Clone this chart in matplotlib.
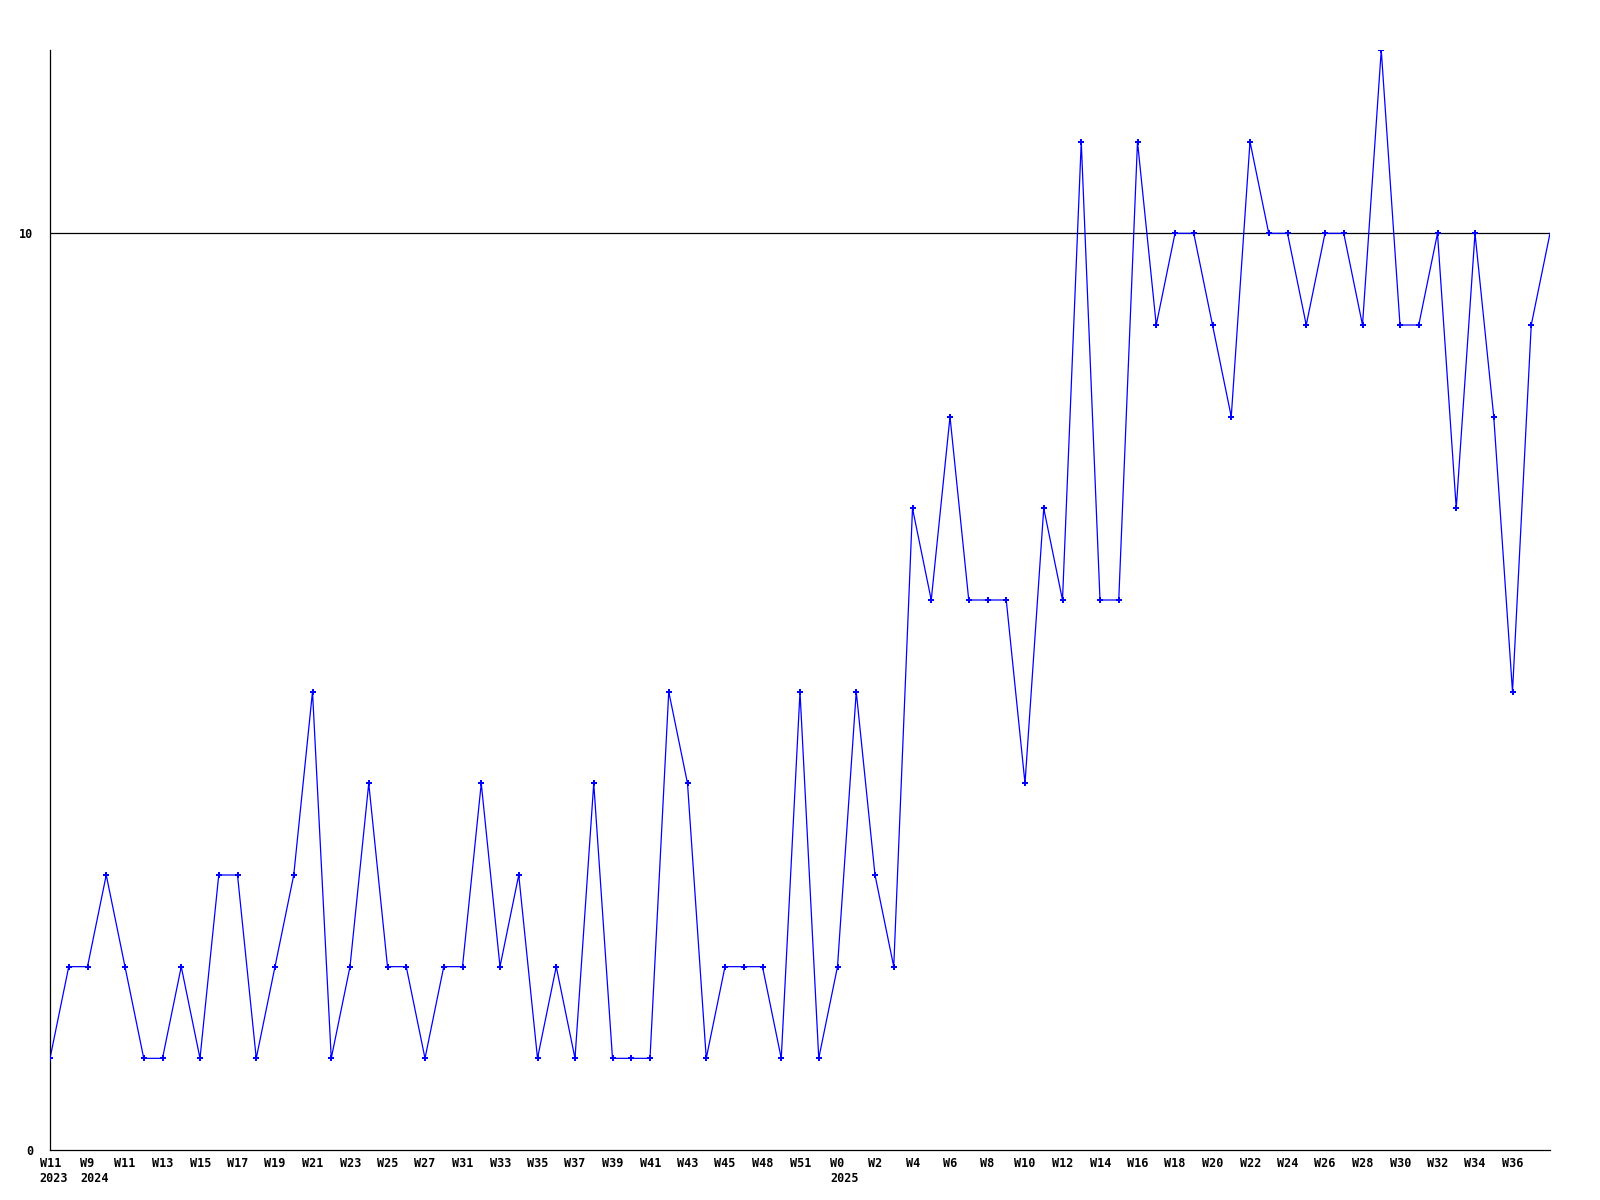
#!/usr/bin/env python
"""
Weekly counts line chart (2023 W11 .. 2025 W37).
"""
import matplotlib
matplotlib.use('Agg')
import matplotlib.pyplot as plt

# values per week, one point each
values = [1, 2, 2, 3, 2, 1, 1, 2, 1, 3,
          3, 1, 2, 3, 5, 1, 2, 4, 2, 2,
          1, 2, 2, 4, 2, 3, 1, 2, 1, 4,
          1, 1, 1, 5, 4, 1, 2, 2, 2, 1,
          5, 1, 2, 5, 3, 2, 7, 6, 8, 6,
          6, 6, 4, 7, 6, 11, 6, 6, 11, 9,
          10, 10, 9, 8, 11, 10, 10, 9, 10, 10,
          9, 12, 9, 9, 10, 7, 10, 8, 5, 9,
          10]

# labels shown under every second point
tick_labels = ['W11', 'W9', 'W11', 'W13', 'W15', 'W17', 'W19', 'W21', 'W23', 'W25',
               'W27', 'W31', 'W33', 'W35', 'W37', 'W39', 'W41', 'W43', 'W45', 'W48',
               'W51', 'W0', 'W2', 'W4', 'W6', 'W8', 'W10', 'W12', 'W14', 'W16',
               'W18', 'W20', 'W22', 'W24', 'W26', 'W28', 'W30', 'W32', 'W34', 'W36']
# year markers: (index of tick label, year)
year_marks = [(0, '2023'), (1, '2024'), (21, '2025')]

y_ticks = [0, 10]

FONT = dict(family='DejaVu Sans Mono', weight='bold', size=8.5)


def main():
    fig = plt.figure(figsize=(16, 12), dpi=100)
    ax = fig.add_axes([50 / 1600, 50 / 1200, 1500 / 1600, 1100 / 1200])

    x = list(range(len(values)))
    ax.axhline(10, color='black', linewidth=0.9, zorder=1)
    ax.plot(x, values, '-', color='#0000ff', linewidth=0.9, zorder=2)
    ax.plot(x[:-1], values[:-1], 'P', color='#0000ff', markersize=4,
            markeredgewidth=0, zorder=3)

    ax.set_xlim(0, len(values) - 1)
    ax.set_ylim(0, 12)

    for s in ['top', 'right']:
        ax.spines[s].set_visible(False)
    for s in ['left', 'bottom']:
        ax.spines[s].set_linewidth(0.9)
        ax.spines[s].set_color('black')

    # y labels
    ax.set_yticks(y_ticks)
    ax.set_yticklabels([str(v) for v in y_ticks], **FONT)
    ax.tick_params(axis='y', length=0, pad=12)

    # x labels: week centred on point, year below sharing left edge
    ax.set_xticks([])
    tick_pos = list(range(0, len(values), 2))[:len(tick_labels)]
    for pos, lab in zip(tick_pos, tick_labels):
        w = len(lab) * 7.0
        ax.annotate(lab, xy=(pos, 0), xycoords=('data', 'axes fraction'),
                    xytext=(-w / 2 * 0.72, -5), textcoords='offset points',
                    ha='left', va='top', **FONT)
    for k, year in year_marks:
        lab = tick_labels[k]
        w = len(lab) * 7.0
        ax.annotate(year, xy=(tick_pos[k], 0), xycoords=('data', 'axes fraction'),
                    xytext=(-w / 2 * 0.72, -15.5), textcoords='offset points',
                    ha='left', va='top', **FONT)

    plt.savefig('out.png', dpi=100)
    plt.close()


if __name__ == "__main__":
    main()
